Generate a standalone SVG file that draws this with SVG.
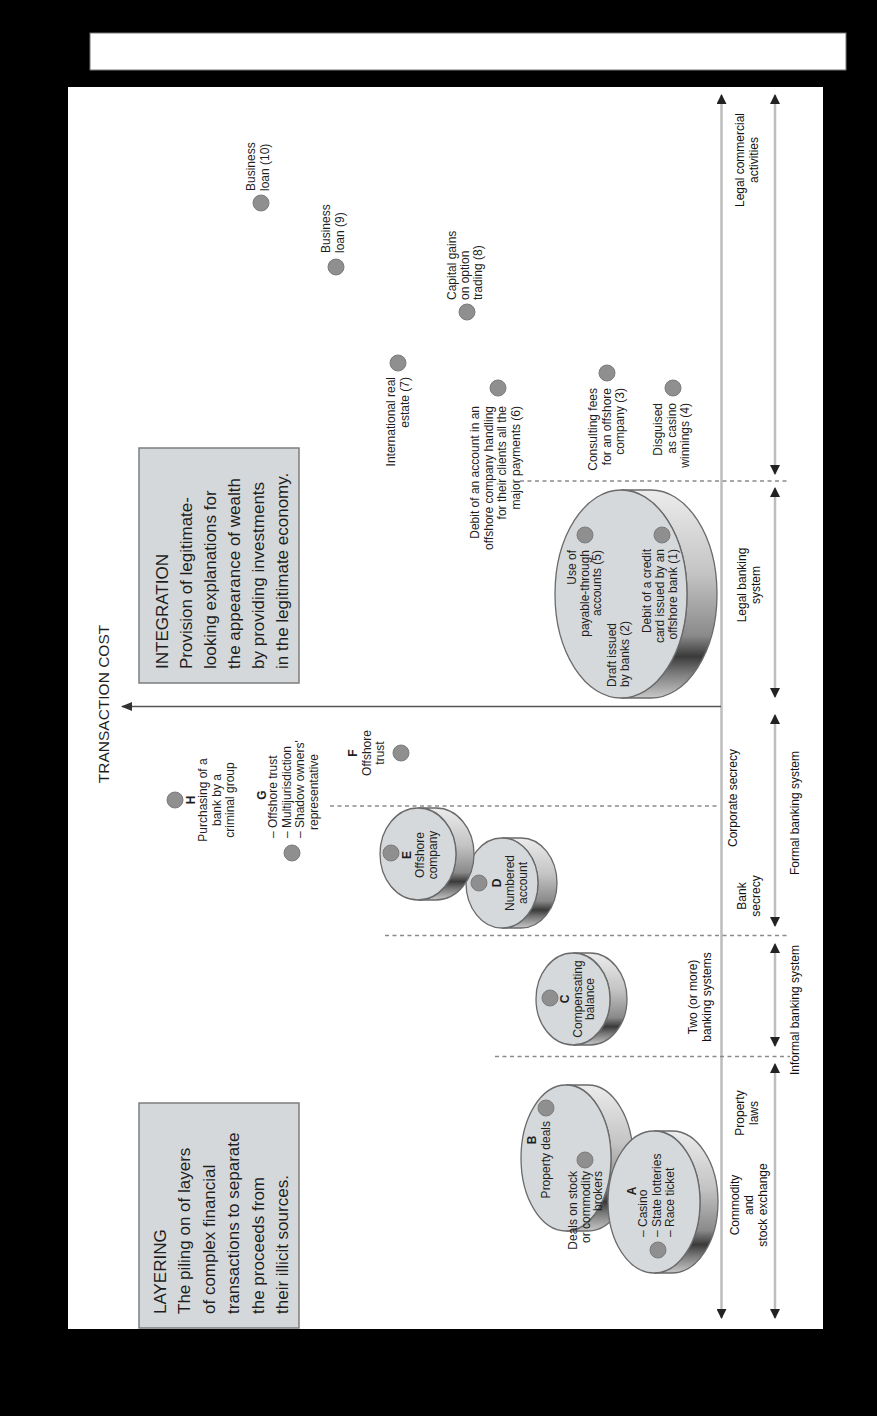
<svg xmlns="http://www.w3.org/2000/svg" width="877" height="1416" viewBox="0 0 877 1416">
<defs>
<style>
.t{font-family:"Liberation Sans",Arial,sans-serif;fill:#1e1e1e}
.lab{font-size:12px}
.ax{font-size:12px;fill:#111}
.big{font-size:17px}
.box{fill:#d5d8da;stroke:#7d7d7d;stroke-width:1.5}
.dot{fill:#8f8f8f;stroke:#7c7c7c;stroke-width:1}
.face{fill:#d6d9db;stroke:#6a6a6a;stroke-width:1.3}
.side{fill:url(#sideg);stroke:#6a6a6a;stroke-width:1.3}
.dash{stroke:#8a8a8a;stroke-width:1.6;stroke-dasharray:4 3.5;fill:none}
.axis{stroke:#bdbdbd;stroke-width:2.5;fill:none}
</style>
<linearGradient id="sideg" x1="0" y1="0" x2="0" y2="1">
<stop offset="0" stop-color="#ececec"/>
<stop offset="0.4" stop-color="#c4c4c4"/>
<stop offset="0.7" stop-color="#8a8a8a"/>
<stop offset="0.8" stop-color="#3a3a3a"/>
<stop offset="0.88" stop-color="#7a7a7a"/>
<stop offset="1" stop-color="#c8c8c8"/>
</linearGradient>
<marker id="ah" viewBox="0 0 10 10" refX="9" refY="5" markerWidth="4" markerHeight="4" orient="auto-start-reverse">
<path d="M0,0 L10,5 L0,10 Z" fill="#222"/>
</marker>
<marker id="ah2" viewBox="0 0 10 10" refX="9" refY="5" markerWidth="7" markerHeight="7" orient="auto">
<path d="M0,1 L10,5 L0,9 Z" fill="#333"/>
</marker>
</defs>

<rect x="0" y="0" width="877" height="1416" fill="#000"/>
<rect x="90" y="33" width="756" height="37" fill="#fff" stroke="#777" stroke-width="1"/>
<rect x="68" y="87" width="755" height="1242" fill="#fff"/>

<g id="connectors">
<line class="axis" x1="721.5" y1="95" x2="721.5" y2="1318" marker-start="url(#ah)" marker-end="url(#ah)"/>
<line class="axis" x1="775" y1="95" x2="775" y2="474" marker-start="url(#ah)" marker-end="url(#ah)"/>
<line class="axis" x1="775" y1="488" x2="775" y2="697" marker-start="url(#ah)" marker-end="url(#ah)"/>
<line class="axis" x1="775" y1="715" x2="775" y2="926" marker-start="url(#ah)" marker-end="url(#ah)"/>
<line class="axis" x1="775" y1="944" x2="775" y2="1046" marker-start="url(#ah)" marker-end="url(#ah)"/>
<line class="axis" x1="775" y1="1064" x2="775" y2="1318" marker-start="url(#ah)" marker-end="url(#ah)"/>
<line x1="721" y1="706.5" x2="122" y2="706.5" stroke="#555" stroke-width="1.6" marker-end="url(#ah2)"/>
<line class="dash" x1="520" y1="481" x2="790" y2="481"/>
<line class="dash" x1="330" y1="806" x2="720" y2="806"/>
<line class="dash" x1="385" y1="935.5" x2="790" y2="935.5"/>
<line class="dash" x1="495" y1="1056.5" x2="790" y2="1056.5"/>
</g>

<g id="axis-labels">
<text class="t ax" transform="translate(744,160) rotate(-90)" text-anchor="middle"><tspan x="0" y="0">Legal commercial</tspan><tspan x="0" dy="14">activities</tspan></text>
<text class="t ax" transform="translate(746,585) rotate(-90)" text-anchor="middle"><tspan x="0" y="0">Legal banking</tspan><tspan x="0" dy="14">system</tspan></text>
<text class="t ax" transform="translate(737,798) rotate(-90)" text-anchor="middle">Corporate secrecy</text>
<text class="t ax" transform="translate(746,896) rotate(-90)" text-anchor="middle"><tspan x="0" y="0">Bank</tspan><tspan x="0" dy="14">secrecy</tspan></text>
<text class="t ax" transform="translate(697,997) rotate(-90)" text-anchor="middle"><tspan x="0" y="0">Two (or more)</tspan><tspan x="0" dy="14">banking systems</tspan></text>
<text class="t ax" transform="translate(744,1113) rotate(-90)" text-anchor="middle"><tspan x="0" y="0">Property</tspan><tspan x="0" dy="14">laws</tspan></text>
<text class="t ax" transform="translate(739,1205) rotate(-90)" text-anchor="middle"><tspan x="0" y="0">Commodity</tspan><tspan x="0" dy="14">and</tspan><tspan x="0" dy="14">stock exchange</tspan></text>
<text class="t ax" transform="translate(799,813) rotate(-90)" text-anchor="middle">Formal banking system</text>
<text class="t ax" transform="translate(799,1010) rotate(-90)" text-anchor="middle">Informal banking system</text>
<text class="t" font-size="15.5" transform="translate(109,704) rotate(-90)" text-anchor="middle">TRANSACTION COST</text>
</g>

<g id="layering">
<rect class="box" x="139" y="1103" width="160" height="225"/>
<text class="t big" transform="translate(166,1314) rotate(-90)"><tspan x="0" y="0">LAYERING</tspan><tspan x="0" dy="24.4">The piling on of layers</tspan><tspan x="0" dy="24.4">of complex financial</tspan><tspan x="0" dy="24.4">transactions to separate</tspan><tspan x="0" dy="24.4">the proceeds from</tspan><tspan x="0" dy="24.4">their illicit sources.</tspan></text>
</g>

<g id="integration">
<rect class="box" x="139" y="448" width="160" height="235"/>
<text class="t big" transform="translate(168,669) rotate(-90)"><tspan x="0" y="0">INTEGRATION</tspan><tspan x="0" dy="24">Provision of legitimate-</tspan><tspan x="0" dy="24">looking explanations for</tspan><tspan x="0" dy="24">the appearance of wealth</tspan><tspan x="0" dy="24">by providing investments</tspan><tspan x="0" dy="24">in the legitimate economy.</tspan></text>
</g>

<g id="node-B">
<path class="side" d="M566,1085 L588,1085 A45,73 0 0 1 588,1231 L566,1231 A45,73 0 0 0 566,1085 Z"/>
<ellipse class="face" cx="566" cy="1158" rx="45" ry="73"/>
<circle class="dot" cx="546" cy="1108" r="8"/>
<circle class="dot" cx="585" cy="1160" r="8"/>
<text class="t lab" transform="translate(536,1140) rotate(-90)" text-anchor="middle" font-weight="bold">B</text>
<text class="t lab" transform="translate(550,1121) rotate(-90)" text-anchor="end">Property deals</text>
<text class="t lab" font-size="11.5" transform="translate(577,1171) rotate(-90)" text-anchor="end"><tspan x="0" y="0">Deals on stock</tspan><tspan x="0" dy="12.5">or commodity</tspan><tspan x="0" dy="12.5">brokers</tspan></text>
</g>

<g id="node-A">
<path class="side" d="M654,1131 L672,1131 A46,71 0 0 1 672,1273 L654,1273 A46,71 0 0 0 654,1131 Z"/>
<ellipse class="face" cx="654" cy="1202" rx="46" ry="71"/>
<circle class="dot" cx="658" cy="1250" r="8"/>
<text class="t lab" transform="translate(636,1191) rotate(-90)" text-anchor="middle" font-weight="bold">A</text>
<text class="t lab" transform="translate(647,1237) rotate(-90)"><tspan x="0" y="0">– Casino</tspan><tspan x="0" dy="13.5">– State lotteries</tspan><tspan x="0" dy="13.5">– Race ticket</tspan></text>
</g>

<g id="node-C">
<path class="side" d="M573,953 L590,953 A37,46 0 0 1 590,1045 L573,1045 A37,46 0 0 0 573,953 Z"/>
<ellipse class="face" cx="573" cy="999" rx="37" ry="46"/>
<circle class="dot" cx="550" cy="998" r="8"/>
<text class="t lab" transform="translate(569,999) rotate(-90)" text-anchor="middle"><tspan x="0" y="0" font-weight="bold">C</tspan><tspan x="0" dy="12.5">Compensating</tspan><tspan x="0" dy="12.5">balance</tspan></text>
</g>

<g id="node-D">
<path class="side" d="M502,838 L521,838 A36,45 0 0 1 521,928 L502,928 A36,45 0 0 0 502,838 Z"/>
<ellipse class="face" cx="502" cy="883" rx="36" ry="45"/>
<circle class="dot" cx="479" cy="883" r="8"/>
<text class="t lab" transform="translate(501,883) rotate(-90)" text-anchor="middle"><tspan x="0" y="0" font-weight="bold">D</tspan><tspan x="0" dy="12.5">Numbered</tspan><tspan x="0" dy="13">account</tspan></text>
</g>

<g id="node-E">
<path class="side" d="M418,808 L436,808 A38,46 0 0 1 436,900 L418,900 A38,46 0 0 0 418,808 Z"/>
<ellipse class="face" cx="418" cy="854" rx="38" ry="46"/>
<circle class="dot" cx="391" cy="853" r="8"/>
<text class="t lab" transform="translate(411,855) rotate(-90)" text-anchor="middle"><tspan x="0" y="0" font-weight="bold">E</tspan><tspan x="0" dy="13">Offshore</tspan><tspan x="0" dy="13">company</tspan></text>
</g>

<g id="node-F">
<circle class="dot" cx="401" cy="753" r="8"/>
<text class="t lab" transform="translate(357,753) rotate(-90)" text-anchor="middle"><tspan x="0" y="0" font-weight="bold">F</tspan><tspan x="0" dy="14">Offshore</tspan><tspan x="0" dy="13">trust</tspan></text>
</g>

<g id="node-G">
<circle class="dot" cx="292" cy="853" r="8"/>
<text class="t lab" transform="translate(266,795) rotate(-90)" text-anchor="middle" font-weight="bold">G</text>
<text class="t lab" transform="translate(277,838) rotate(-90)"><tspan x="0" y="0">– Offshore trust</tspan><tspan x="0" dy="13.5">– Multijurisdiction</tspan><tspan x="0" dy="13.5">– Shadow owners'</tspan><tspan x="8" dy="13.5">representative</tspan></text>
</g>

<g id="node-H">
<circle class="dot" cx="175" cy="800" r="8"/>
<text class="t lab" transform="translate(195,800) rotate(-90)" text-anchor="middle"><tspan x="0" y="0" font-weight="bold">H</tspan><tspan x="0" dy="12">Purchasing of a</tspan><tspan x="0" dy="13.5">bank by a</tspan><tspan x="0" dy="13.5">criminal group</tspan></text>
</g>

<g id="node-legal-bank">
<path class="side" d="M621,490 L651,490 A66,104 0 0 1 651,698 L621,698 A66,104 0 0 0 621,490 Z"/>
<ellipse class="face" cx="621" cy="594" rx="66" ry="104"/>
<circle class="dot" cx="585" cy="535" r="8"/>
<circle class="dot" cx="662" cy="535" r="8"/>
<text class="t lab" transform="translate(576,550) rotate(-90)" text-anchor="end"><tspan x="0" y="0">Use of</tspan><tspan x="0" dy="12.5">payable-through</tspan><tspan x="0" dy="12.5">accounts (5)</tspan></text>
<text class="t lab" transform="translate(616,687) rotate(-90)"><tspan x="0" y="0">Draft issued</tspan><tspan x="0" dy="13">by banks (2)</tspan></text>
<text class="t lab" transform="translate(651,549) rotate(-90)" text-anchor="end"><tspan x="0" y="0">Debit of a credit</tspan><tspan x="0" dy="13">card issued by an</tspan><tspan x="0" dy="13">offshore bank (1)</tspan></text>
</g>

<g id="node-3">
<circle class="dot" cx="607" cy="373" r="8"/>
<text class="t lab" transform="translate(597,388) rotate(-90)" text-anchor="end"><tspan x="0" y="0">Consulting fees</tspan><tspan x="0" dy="13.5">for an offshore</tspan><tspan x="0" dy="13.5">company (3)</tspan></text>
</g>
<g id="node-4">
<circle class="dot" cx="673" cy="388" r="8"/>
<text class="t lab" transform="translate(662,403) rotate(-90)" text-anchor="end"><tspan x="0" y="0">Disguised</tspan><tspan x="0" dy="13.5">as casino</tspan><tspan x="0" dy="13.5">winnings (4)</tspan></text>
</g>
<g id="node-6">
<circle class="dot" cx="498" cy="388" r="8"/>
<text class="t lab" transform="translate(479,406) rotate(-90)" text-anchor="end"><tspan x="0" y="0">Debit of an account in an</tspan><tspan x="0" dy="13.7">offshore company handling</tspan><tspan x="0" dy="13.7">for their clients all the</tspan><tspan x="0" dy="13.7">major payments (6)</tspan></text>
</g>
<g id="node-7">
<circle class="dot" cx="398" cy="363" r="8"/>
<text class="t lab" transform="translate(395,377) rotate(-90)" text-anchor="end"><tspan x="0" y="0">International real</tspan><tspan x="0" dy="13.5">estate (7)</tspan></text>
</g>
<g id="node-8">
<circle class="dot" cx="467" cy="312" r="8"/>
<text class="t lab" transform="translate(456,300) rotate(-90)"><tspan x="0" y="0">Capital gains</tspan><tspan x="0" dy="13">on option</tspan><tspan x="0" dy="13">trading (8)</tspan></text>
</g>
<g id="node-9">
<circle class="dot" cx="336" cy="267" r="8"/>
<text class="t lab" transform="translate(330,253) rotate(-90)"><tspan x="0" y="0">Business</tspan><tspan x="0" dy="14">loan (9)</tspan></text>
</g>
<g id="node-10">
<circle class="dot" cx="261" cy="203" r="8"/>
<text class="t lab" transform="translate(255,191) rotate(-90)"><tspan x="0" y="0">Business</tspan><tspan x="0" dy="14">loan (10)</tspan></text>
</g>
</svg>
